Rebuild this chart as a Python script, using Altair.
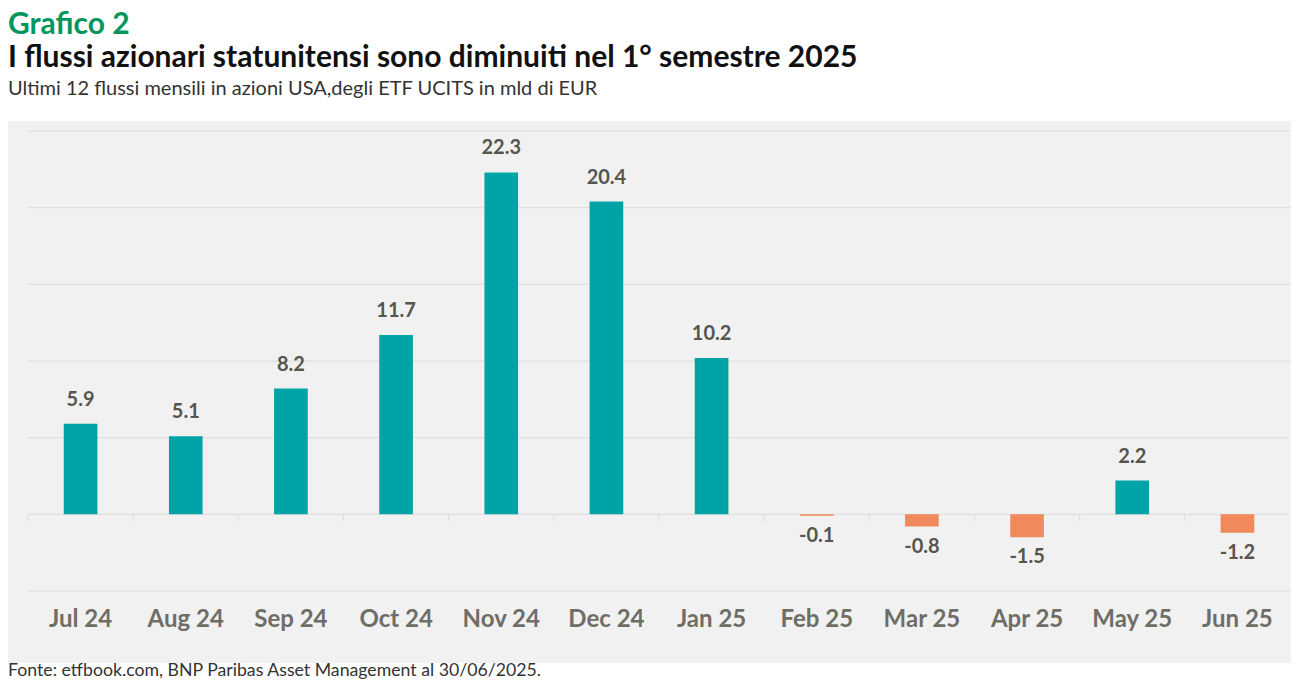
import altair as alt
import pandas as pd

months = ["Jul 24", "Aug 24", "Sep 24", "Oct 24", "Nov 24", "Dec 24",
          "Jan 25", "Feb 25", "Mar 25", "Apr 25", "May 25", "Jun 25"]
flows = [5.9, 5.1, 8.2, 11.7, 22.3, 20.4, 10.2, -0.1, -0.8, -1.5, 2.2, -1.2]
grid_values = [-5, 0, 5, 10, 15, 20, 25]

kicker = "Grafico 2"
title = "I flussi azionari statunitensi sono diminuiti nel 1° semestre 2025"
subtitle = "Ultimi 12 flussi mensili in azioni USA,degli ETF UCITS in mld di EUR"
source = "Fonte: etfbook.com, BNP Paribas Asset Management al 30/06/2025."

TEAL = "#00A3A6"
ORANGE = "#F0895B"
GREEN = "#00965E"
W, H = 1262, 460
FONT = "Lato"

df = pd.DataFrame({"month": months, "value": flows})
one = pd.DataFrame({"k": [0]})
grid_df = pd.DataFrame({"g": grid_values})

xscale = alt.Scale(domain=months, paddingInner=0, paddingOuter=0)
yscale = alt.Scale(domain=[-5, 25], nice=False)
yaxis = alt.Axis(title=None, labels=False, ticks=False, domain=False, grid=False)
xenc = alt.X("month:N", scale=xscale, sort=months)
yenc = alt.Y("value:Q", scale=yscale)

panel = alt.Chart(one).mark_rect(color="#F1F1F1", clip=False).encode(
    x=alt.value(-20), x2=alt.value(W + 1), y=alt.value(-10), y2=alt.value(H + 72)
)

grid = alt.Chart(grid_df).mark_rule(color="#DCDCDC", strokeWidth=1).encode(
    y=alt.Y("g:Q", scale=yscale, axis=yaxis)
)

bars = alt.Chart(df).mark_bar(width=alt.RelativeBandSize(0.32)).encode(
    x=alt.X("month:N", scale=xscale, sort=months,
            axis=alt.Axis(title=None, ticks=False, domain=False, grid=False,
                          labelAngle=0, zindex=1, bandPosition=0.5,
                          labelAlign="center",
                          labelFont=FONT, labelFontSize=24, labelFontWeight="bold",
                          labelColor="#6E6E66", labelPadding=28)),
    y=alt.Y("value:Q", scale=yscale, axis=yaxis),
    color=alt.condition(alt.datum.value >= 0, alt.value(TEAL), alt.value(ORANGE)),
)

ticks = alt.Chart(df).mark_rule(color="#DCDCDC", strokeWidth=1).encode(
    x=alt.X("month:N", scale=xscale, sort=months, bandPosition=0),
    y=alt.datum(0),
    y2=alt.datum(-0.45),
)

labelled = alt.Chart(df).transform_calculate(label="'' + datum.value")

pos_labels = labelled.transform_filter(alt.datum.value >= 0).mark_text(
    font=FONT, fontSize=20, fontWeight="bold", color="#56564E",
    baseline="bottom", dy=-14
).encode(x=xenc, y=yenc, text="label:N")

neg_labels = labelled.transform_filter(alt.datum.value < 0).mark_text(
    font=FONT, fontSize=20, fontWeight="bold", color="#56564E",
    baseline="top", dy=10
).encode(x=xenc, y=yenc, text="label:N")


def header(txt, y, size, color, weight):
    return alt.Chart(pd.DataFrame({"t": [txt]})).mark_text(
        align="left", baseline="middle", font=FONT, fontSize=size,
        color=color, fontWeight=weight, clip=False
    ).encode(x=alt.value(-20), y=alt.value(y), text="t:N")


h1 = header(kicker, -106, 30, GREEN, "bold")
h2 = header(title, -73, 30, "#111111", "bold")
h3 = header(subtitle, -42, 20, "#333333", "normal")
h4 = header(source, H + 80, 17.7, "#333333", "normal")

chart = alt.layer(panel, grid, ticks, bars, pos_labels, neg_labels,
                  h1, h2, h3, h4).properties(
    width=W, height=H,
    padding={"top": 2, "left": 0, "right": 0, "bottom": 0},
    background="white"
).configure_view(stroke=None)

chart.save("out.html", embed_options={"renderer": "svg", "actions": False})
